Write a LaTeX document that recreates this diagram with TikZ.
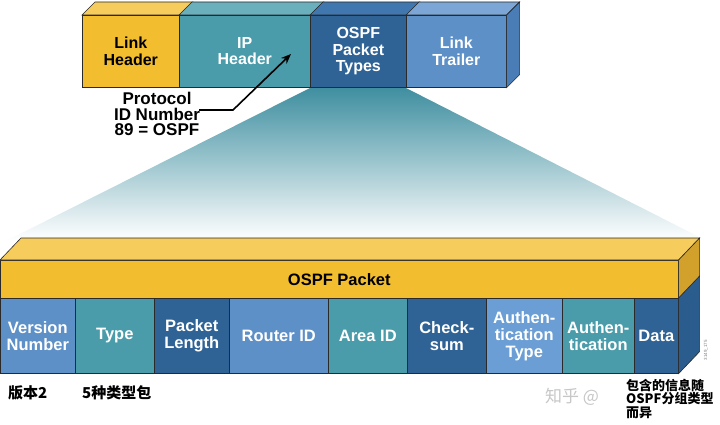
\documentclass[tikz,border=0pt]{standalone}
\usepackage{fontspec}
\setmainfont{Liberation Sans}
\newfontfamily\cjk{Noto Sans CJK SC}
\usetikzlibrary{arrows.meta,calc}
\definecolor{yel}{HTML}{F2BD2F}
\definecolor{yeltop}{HTML}{F6CC5C}
\definecolor{yelside}{HTML}{D2A12B}
\definecolor{teal}{HTML}{4A9CAA}
\definecolor{tealtop}{HTML}{6AAFBC}
\definecolor{dblue}{HTML}{2F6396}
\definecolor{dbluetop}{HTML}{3F77AE}
\definecolor{lblue}{HTML}{5E90C8}
\definecolor{lbluetop}{HTML}{7BA6D6}
\definecolor{lblueside}{HTML}{4A7DB6}
\definecolor{xblue}{HTML}{6A9ED4}
\definecolor{bside}{HTML}{2B5C8E}
\definecolor{fan}{HTML}{3F8FA0}
\definecolor{edge}{HTML}{2A2A2A}
\tikzset{
  seg/.style={draw=edge, line width=0.6pt, anchor=north west, inner sep=0pt,
    minimum height=72pt, align=center, text=white,
    font=\bfseries\fontsize{16}{16.5}\selectfont},
  fld/.style={draw=edge, line width=0.6pt, anchor=north west, inner sep=0pt,
    minimum height=75pt, align=center, text=white,
    font=\bfseries\fontsize{16.5}{17}\selectfont},
  face/.style={draw=edge, line width=0.6pt},
  cjklab/.style={anchor=west, inner sep=0pt, font=\cjk\bfseries\fontsize{15}{15}\selectfont},
}
\begin{document}
\begin{tikzpicture}[x=1pt,y=-1pt]
\useasboundingbox[fill=white] (0,0) rectangle (720,425);
% fan
\shade[top color=fan, bottom color=white] (310,88) -- (406,88) -- (705,240) -- (8,240) -- cycle;
% top bar
\node[seg, minimum width=97pt, fill=yel, text=black] (lh) at (82,15) {Link\\Header};
\node[seg, minimum width=131pt, fill=teal] (ip) at (179,15) {IP\\Header};
\node[seg, minimum width=96pt, fill=dblue] (ospf) at (310,15) {OSPF\\Packet\\Types};
\node[seg, minimum width=100pt, fill=lblue] (lt) at (406,15) {Link\\Trailer};
\filldraw[face, fill=yeltop] (lh.north west) -- ++(13,-13) -- ($(lh.north east)+(13,-13)$) -- (lh.north east) -- cycle;
\filldraw[face, fill=tealtop] (ip.north west) -- ++(13,-13) -- ($(ip.north east)+(13,-13)$) -- (ip.north east) -- cycle;
\filldraw[face, fill=dbluetop] (ospf.north west) -- ++(13,-13) -- ($(ospf.north east)+(13,-13)$) -- (ospf.north east) -- cycle;
\filldraw[face, fill=lbluetop] (lt.north west) -- ++(13,-13) -- ($(lt.north east)+(13,-13)$) -- (lt.north east) -- cycle;
\filldraw[face, fill=lblueside] (lt.north east) -- ++(13,-13) -- ($(lt.south east)+(13,-13)$) -- (lt.south east) -- cycle;
% protocol label and arrow
\node[align=center, inner sep=0pt, font=\bfseries\fontsize{17}{15.5}\selectfont] (proto) at (157,114) {Protocol\\ID Number\\89 = OSPF};
\coordinate (bend) at (233,110);
\coordinate (tip) at (291,54);
\draw[line width=1.6pt, -{Stealth[length=10pt,width=8pt]}] (proto.east |- bend) ++(-1,0) -- (bend) -- (tip);
% bottom bar
\node[draw=edge, line width=0.6pt, anchor=north west, inner sep=0pt, minimum width=678pt, minimum height=38pt, fill=yel, font=\bfseries\fontsize{16.5}{17}\selectfont] (pkt) at (0,260) {OSPF Packet};
\filldraw[face, fill=yeltop] (pkt.north west) -- ++(21,-22) -- ($(pkt.north east)+(21,-22)$) -- (pkt.north east) -- cycle;
\filldraw[face, fill=yelside] (pkt.north east) -- ++(21,-22) -- ($(pkt.south east)+(21,-22)$) -- (pkt.south east) -- cycle;
\node[fld, minimum width=75pt, fill=lblue] (f1) at (0,298) {Version\\Number};
\node[fld, minimum width=79pt, fill=teal] (f2) at (75,298) {Type};
\node[fld, minimum width=75pt, fill=dblue] (f3) at (154,298) {Packet\\Length};
\node[fld, minimum width=99pt, fill=lblue] (f4) at (229,298) {Router ID};
\node[fld, minimum width=79pt, fill=teal] (f5) at (328,298) {Area ID};
\node[fld, minimum width=79pt, fill=dblue] (f6) at (407,298) {Check-\\sum};
\node[fld, minimum width=76pt, fill=xblue] (f7) at (486,298) {Authen-\\tication\\Type};
\node[fld, minimum width=72pt, fill=teal] (f8) at (562,298) {Authen-\\tication};
\node[fld, minimum width=44pt, fill=dblue] (f9) at (634,298) {Data};
\filldraw[face, fill=bside] (f9.north east) -- ++(21,-22) -- ($(f9.south east)+(21,-22)$) -- (f9.south east) -- cycle;
\node[rotate=90, inner sep=0pt, text=gray, font=\fontsize{4.5}{5}\selectfont] (code) at (706,350) {3149\_175};
% annotations
\node[cjklab] (v) at (8,393) {版本2};
\node[cjklab] (t) at (82,393) {5种类型包};
\node[anchor=west, inner sep=0pt, text=black!22, font=\cjk\fontsize{17}{18}\selectfont] (wm) at (545,397) {知乎 @};
\node[anchor=north west, inner sep=0pt, align=left, font=\cjk\bfseries\fontsize{13}{13.5}\selectfont] (note) at (626,379) {包含的信息随\\OSPF分组类型\\而异};
\end{tikzpicture}
\end{document}
